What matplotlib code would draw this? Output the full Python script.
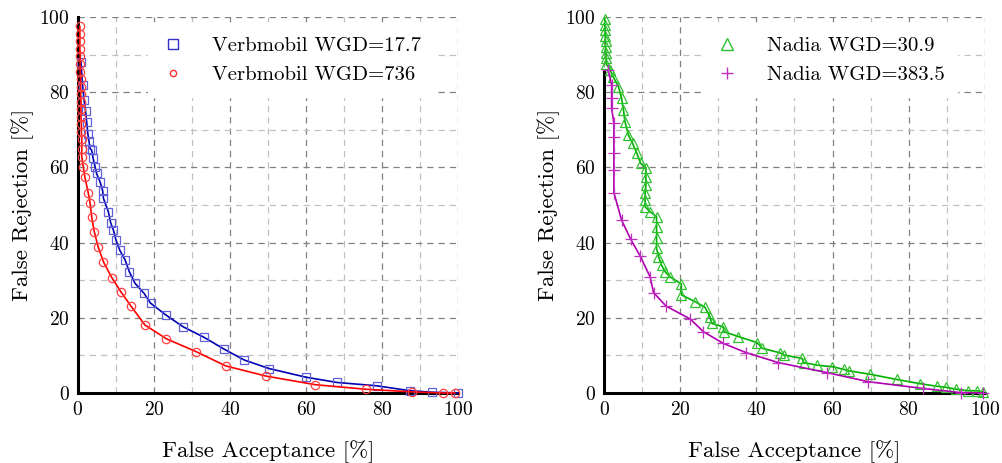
import matplotlib
matplotlib.use("Agg")
import matplotlib.pyplot as plt
from matplotlib.lines import Line2D
from matplotlib.ticker import MultipleLocator

plt.rcParams['font.family'] = ['cmr10', 'DejaVu Serif']
plt.rcParams['axes.formatter.use_mathtext'] = True

# Verbmobil WGD=17.7 (blue squares)
vb_fa = [0.8, 1.2, 1.6, 2.0, 2.3, 2.6, 2.9, 3.2, 3.6, 4.0, 4.5, 4.9, 5.8, 6.5, 6.7, 8.0, 8.6, 9.3,
         10.0, 11.0, 12.4, 13.5, 15.0, 17.4, 19.1, 23.2, 27.7, 33.2, 38.4, 43.7, 50.3, 60.0, 68.2,
         78.8, 87.4, 93.3, 100.0]
vb_fr = [88.0, 82.0, 78.0, 75.0, 72.0, 69.0, 67.0, 65.0, 64.6, 62.4, 60.2, 58.4, 56.2, 53.8, 51.8,
         48.2, 45.3, 43.4, 40.7, 38.0, 35.4, 32.3, 29.2, 26.5, 23.9, 20.7, 17.6, 14.8, 11.7, 8.8, 6.5,
         4.2, 2.8, 1.9, 0.6, 0.2, 0.0]

# Verbmobil WGD=736 (red circles)
vr_fa = [0.5, 0.5, 0.5, 0.5, 0.6, 0.6, 0.6, 0.7, 0.7, 0.7, 0.8, 0.8, 0.8, 0.9, 0.9, 1.0, 1.0, 1.0,
         1.4, 1.8, 2.7, 3.2, 3.6, 4.3, 5.3, 6.7, 8.9, 11.3, 13.9, 17.6, 23.3, 31.1, 38.9, 49.5, 62.5,
         75.7, 88.0, 96.0, 99.2]
vr_fr = [97.5, 95.5, 93.5, 91.5, 89.5, 87.5, 85.5, 83.5, 81.5, 79.5, 77.5, 75.5, 73.5, 71.5, 69.5,
         67.5, 65.0, 62.8, 60.2, 57.5, 53.3, 50.4, 46.9, 42.9, 38.9, 34.9, 30.7, 26.9, 23.2, 18.1,
         14.4, 11.0, 7.2, 4.5, 2.2, 1.0, 0.3, 0.0, 0.0]

# Nadia WGD=30.9 (green triangles)
ng_fa = [0.2, 0.2, 0.3, 0.3, 0.4, 0.4, 0.5, 0.5, 0.6, 1.6, 2.4, 3.8, 4.6, 5.1, 5.5, 6.4, 7.5, 8.6,
         9.6, 11.0, 11.0, 11.0, 10.8, 10.8, 10.8, 12.1, 13.8, 13.8, 13.8, 13.8, 14.3, 15.1, 16.0,
         17.3, 20.3, 20.3, 23.9, 26.5, 27.8, 28.3, 31.3, 31.5, 35.3, 40.2, 41.5, 46.1, 47.2, 52.0,
         52.4, 55.9, 59.9, 62.9, 64.2, 69.8, 76.8, 82.9, 87.3, 89.9, 92.5, 95.6, 97.8, 99.5]
ng_fr = [99.5, 98.0, 96.5, 95.0, 93.5, 92.0, 90.5, 89.0, 87.5, 85.9, 84.1, 81.5, 78.4, 75.3, 72.2,
         68.6, 66.4, 63.8, 61.1, 59.8, 57.5, 55.3, 53.3, 51.3, 49.5, 48.2, 46.9, 44.2, 41.1, 38.5,
         36.3, 34.0, 32.3, 30.9, 29.0, 26.1, 24.3, 22.8, 20.3, 18.5, 17.6, 16.3, 15.0, 13.4, 11.9,
         10.7, 10.1, 9.2, 8.1, 7.4, 7.0, 6.3, 5.9, 5.0, 3.6, 2.5, 1.8, 1.5, 1.0, 0.6, 0.6, 0.3]

# Nadia WGD=383.5 (purple plus)
np_fa = [1.1, 2.0, 2.0, 2.0, 2.6, 2.6, 2.6, 2.6, 2.6, 4.6, 7.0, 9.5, 12.1, 13.0, 16.3, 22.6, 26.1,
         31.3, 37.4, 45.7, 58.6, 69.4, 83.8, 93.6, 99.5]
np_fr = [86.0, 81.9, 78.4, 75.7, 71.7, 68.2, 63.7, 59.3, 53.3, 46.0, 40.9, 36.4, 30.9, 26.7, 23.1,
         19.7, 16.3, 13.2, 10.7, 8.1, 5.4, 3.0, 1.2, 0.1, 0.0]

fig = plt.figure(figsize=(10.02, 4.63), dpi=100)
ax1 = fig.add_axes([0.0778, 0.1512, 0.3792, 0.8121])
ax2 = fig.add_axes([0.6028, 0.1512, 0.3802, 0.8121])


def style_axes(ax, left_top=100):
    ax.set_xlim(0, 100)
    ax.set_ylim(0, 100)
    ax.xaxis.set_major_locator(MultipleLocator(20))
    ax.yaxis.set_major_locator(MultipleLocator(20))
    ax.xaxis.set_minor_locator(MultipleLocator(10))
    ax.yaxis.set_minor_locator(MultipleLocator(10))
    ax.grid(True, which='major', color='#808080', linestyle=(0, (5, 4)), linewidth=0.9)
    ax.grid(True, which='minor', color='#c0c0c0', linestyle=(0, (5, 4)), linewidth=0.9)
    ax.set_axisbelow(True)
    for s in ['top', 'right']:
        ax.spines[s].set_visible(False)
    ax.spines['left'].set_linewidth(2.2)
    ax.spines['bottom'].set_linewidth(2.2)
    ax.spines['left'].set_bounds(0, left_top)
    ax.tick_params(which='both', length=0, labelsize=14, pad=6)
    ax.set_xlabel('False Acceptance [%]', fontsize=16.5, labelpad=15)
    ax.set_ylabel('False Rejection [%]', fontsize=16.5, labelpad=4)


style_axes(ax1)
style_axes(ax2, left_top=86)

ax1.plot(vb_fa, vb_fr, color='#0000b4', lw=1.2, marker='s', ms=6, mfc='none',
         mec='#6060d8', mew=0.9, clip_on=False, zorder=3)
ax1.plot(vr_fa, vr_fr, color='#ff0000', lw=1.2, marker='o', ms=6, mfc='none',
         mec='#ff4040', mew=0.9, clip_on=False, zorder=4)

ax2.plot(ng_fa, ng_fr, color='#00b000', lw=1.2, marker='^', ms=7, mfc='none',
         mec='#30c030', mew=0.9, clip_on=False, zorder=3)
ax2.plot(np_fa, np_fr, color='#b000b0', lw=1.2, marker='+', ms=8, mfc='none',
         mec='#c030c0', mew=0.9, clip_on=False, zorder=4)

h1 = [Line2D([], [], ls='none', marker='s', ms=7.5, mfc='none', mec='#3030c8', mew=1.0),
      Line2D([], [], ls='none', marker='o', ms=4.5, mfc='none', mec='#ff3030', mew=1.0)]
leg1 = ax1.legend(h1, ['Verbmobil WGD=17.7', 'Verbmobil WGD=736'], loc='upper left',
                  bbox_to_anchor=(0.156, 1.008), fontsize=15, frameon=True, fancybox=False,
                  edgecolor='white', facecolor='white', framealpha=1, handlelength=1.2,
                  handletextpad=1.3, labelspacing=0.5, borderpad=0.6)

h2 = [Line2D([], [], ls='none', marker='^', ms=8, mfc='none', mec='#30c030', mew=1.0),
      Line2D([], [], ls='none', marker='+', ms=9, mfc='none', mec='#c030c0', mew=1.0)]
leg2 = ax2.legend(h2, ['Nadia WGD=30.9', 'Nadia WGD=383.5'], loc='upper left',
                  bbox_to_anchor=(0.231, 1.008), fontsize=15, frameon=True, fancybox=False,
                  edgecolor='white', facecolor='white', framealpha=1, handlelength=1.2,
                  handletextpad=1.3, labelspacing=0.5, borderpad=0.6)

fig.savefig('out.png', dpi=100)
